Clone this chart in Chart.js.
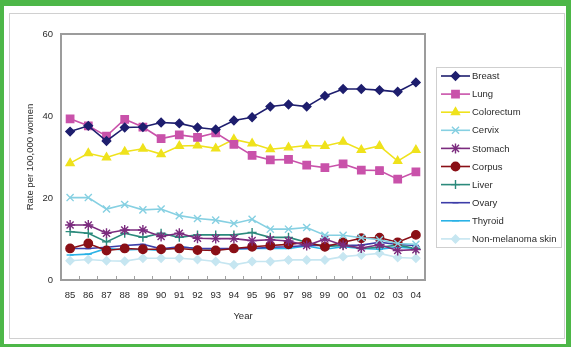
<!DOCTYPE html>
<html>
<head>
<meta charset="utf-8">
<script src="https://cdn.jsdelivr.net/npm/chart.js@4.4.1/dist/chart.umd.min.js"></script>
<style>
  html, body { margin: 0; padding: 0; background: #fff; }
  #frame { position: absolute; left: 0; top: 0; width: 571px; height: 347px; box-sizing: border-box;
           border-style: solid; border-color: #4db748; border-width: 6px 5px 3px 4px; }
  #panel { position: absolute; left: 9px; top: 13px; width: 556px; height: 326px; box-sizing: border-box;
           border: 1px solid #d0d0d0; }
  #wrap { position: absolute; left: 0; top: 0; width: 571px; height: 347px; }
</style>
</head>
<body>
<div id="frame"></div>
<div id="panel"></div>
<div id="wrap"><canvas id="c" width="571" height="347"></canvas></div>
<script>
// Years on the x axis
const years = ['85','86','87','88','89','90','91','92','93','94','95','96','97','98','99','00','01','02','03','04'];

// Incidence rates per 100,000 women
const breast     = [36.2,37.6,33.9,37.2,37.3,38.4,38.2,37.2,36.7,38.9,39.7,42.3,42.8,42.3,44.9,46.6,46.6,46.3,45.9,48.2];
const lung       = [39.3,37.6,35.1,39.2,37.3,34.5,35.4,34.8,35.9,33.1,30.4,29.3,29.4,28.0,27.4,28.3,26.8,26.7,24.6,26.4];
const colorectum = [28.5,30.9,29.9,31.3,32.0,30.7,32.7,32.8,32.1,34.3,33.3,31.9,32.3,32.8,32.7,33.7,31.7,32.7,29.0,31.7];
const cervix     = [20.1,20.1,17.3,18.4,17.1,17.3,15.7,15.0,14.6,13.8,14.8,12.4,12.4,12.8,10.9,10.9,10.3,9.8,8.9,8.7];
const stomach    = [13.4,13.4,11.4,12.2,12.2,10.6,11.4,10.2,10.1,10.1,9.6,9.8,9.5,8.4,10.0,8.5,7.8,8.6,7.2,7.4];
const corpus     = [7.7,8.9,7.2,7.7,7.5,7.5,7.7,7.3,7.2,7.7,8.1,8.4,8.7,9.2,8.1,9.2,10.2,10.3,9.2,11.0];
const liver      = [11.8,11.4,9.3,11.4,10.4,11.4,10.4,11.0,11.0,11.0,11.6,10.4,10.4,9.2,8.1,8.5,7.7,8.0,8.5,7.7];
const ovary      = [7.7,7.7,8.0,8.4,8.7,7.6,8.1,7.7,7.7,7.7,7.7,8.0,8.1,8.4,8.5,8.4,8.5,9.2,8.7,8.4];
const thyroid    = [6.1,6.3,7.7,7.3,7.5,7.2,8.1,7.7,7.5,7.5,7.7,7.7,7.7,8.3,7.5,8.1,7.7,7.5,8.0,7.7];
const skin       = [4.7,5.0,4.7,4.6,5.3,5.3,5.3,5.0,4.5,3.7,4.5,4.5,4.9,4.9,4.9,5.7,6.1,6.5,5.5,5.3];

const yTicks = [0, 20, 40, 60];

const FONT = "'Liberation Sans', Arial, sans-serif";
const TEXT = '#2b2b2b';

function series(label, data, color, style, radius) {
  return {
    label, data,
    borderColor: color, backgroundColor: color,
    pointBackgroundColor: color, pointBorderColor: color,
    borderWidth: 1.6, pointStyle: style, pointRadius: radius, pointBorderWidth: 1.4,
    pointHoverRadius: radius, tension: 0, fill: false
  };
}

const datasets = [
  series('Breast', breast, '#1e1e6e', 'rectRot', 4.2),
  series('Lung', lung, '#c952aa', 'rect', 5.2),
  series('Colorectum', colorectum, '#efe21c', 'triangle', 4.6),
  series('Cervix', cervix, '#86d0e2', 'crossRot', 5),
  series('Stomach', stomach, '#7b2b7e', 'star', 5),
  series('Corpus', corpus, '#8a0f16', 'circle', 4.2),
  series('Liver', liver, '#2b8a7c', 'cross', 4.5),
  series('Ovary', ovary, '#3d3da8', 'line', 3),
  series('Thyroid', thyroid, '#2ab2e6', 'line', 3.5),
  series('Non-melanoma skin', skin, '#c6e6f1', 'rectRot', 4)
];

// Plot frame with small tick marks between year categories
const plotFrame = {
  id: 'plotFrame',
  beforeDatasetsDraw(chart) {
    const { ctx, chartArea: a, scales: { x } } = chart;
    ctx.save();
    ctx.strokeStyle = '#a2a2a2';
    ctx.lineWidth = 1;
    for (let i = 0; i <= years.length; i++) {
      const px = Math.round(x.getPixelForValue(i - 0.5)) + 0.5;
      ctx.beginPath(); ctx.moveTo(px, a.bottom); ctx.lineTo(px, a.bottom - 4); ctx.stroke();
    }
    ctx.lineWidth = 2;
    ctx.strokeStyle = '#9c9c9c';
    ctx.strokeRect(a.left, a.top, a.right - a.left, a.bottom - a.top);
    ctx.restore();
  }
};

// Legend with a line sample through each marker
const lineLegend = {
  id: 'lineLegend',
  afterDraw(chart) {
    const { ctx, chartArea: a } = chart;
    const lx = a.right + 11, ly = a.top + 33, lw = 125, lh = 180;
    ctx.save();
    ctx.fillStyle = '#fff';
    ctx.fillRect(lx, ly, lw, lh);
    ctx.strokeStyle = '#cfcfcf';
    ctx.lineWidth = 1;
    ctx.strokeRect(lx + 0.5, ly + 0.5, lw, lh);
    chart.data.datasets.forEach((ds, i) => {
      const y = ly + 9 + i * 18.1;
      ctx.strokeStyle = ds.borderColor;
      ctx.fillStyle = ds.borderColor;
      ctx.lineWidth = ds.borderWidth;
      ctx.beginPath(); ctx.moveTo(lx + 5, y); ctx.lineTo(lx + 34, y); ctx.stroke();
      ctx.lineWidth = ds.pointBorderWidth;
      Chart.helpers.drawPoint(ctx, { pointStyle: ds.pointStyle, radius: ds.pointRadius, borderWidth: ds.pointBorderWidth, rotation: 0 }, lx + 19.5, y);
      ctx.fillStyle = TEXT;
      ctx.font = `9.5px ${FONT}`;
      ctx.textAlign = 'left';
      ctx.textBaseline = 'middle';
      ctx.fillText(ds.label, lx + 36, y + 0.5);
    });
    ctx.restore();
  }
};

new Chart(document.getElementById('c'), {
  type: 'line',
  data: { labels: years, datasets },
  options: {
    responsive: false,
    animation: false,
    layout: { padding: { left: 20, top: 34, right: 146, bottom: 21 } },
    plugins: { legend: { display: false }, tooltip: { enabled: false } },
    scales: {
      x: {
        offset: true,
        grid: { display: false, drawTicks: false },
        border: { display: false },
        ticks: { color: TEXT, font: { family: FONT, size: 9.5 }, padding: 10, maxRotation: 0, autoSkip: false },
        title: { display: true, text: 'Year', color: TEXT, font: { family: FONT, size: 9.5 }, padding: { top: 0, bottom: 4 } },
        afterFit(s) { s.height = 46; }
      },
      y: {
        min: 0, max: 60,
        grid: { display: false, drawTicks: false },
        border: { display: false },
        afterBuildTicks(s) { s.ticks = yTicks.map(v => ({ value: v })); },
        ticks: { color: TEXT, font: { family: FONT, size: 9.5 }, padding: 8 },
        title: { display: true, text: 'Rate per 100,000 women', color: TEXT, font: { family: FONT, size: 9.5 }, padding: { top: 5, bottom: 0 } },
        afterFit(s) { s.width = 41; }
      }
    }
  },
  plugins: [plotFrame, lineLegend]
});
</script>
</body>
</html>
